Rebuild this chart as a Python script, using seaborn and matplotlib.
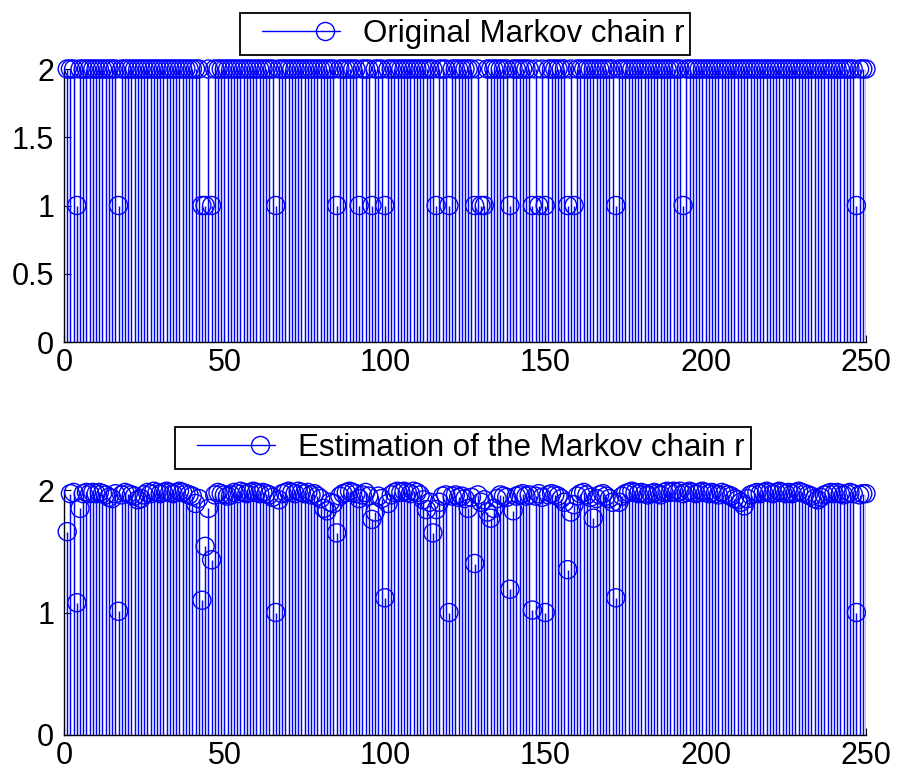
import numpy as np
import pandas as pd
import matplotlib
matplotlib.use("Agg")
import matplotlib.pyplot as plt
from matplotlib.lines import Line2D
import seaborn as sns

# Time steps of the chain
steps = list(range(1, 251))

# Steps at which the original chain sits in state 1 (state 2 elsewhere)
state_one_steps = [4, 17, 43, 44, 46, 66, 85, 92, 96, 100, 116, 120, 128, 130,
                   131, 139, 146, 148, 150, 157, 159, 172, 193, 247]
original_r = [1 if s in state_one_steps else 2 for s in steps]

# Estimated chain values, steps 1..250
estimated_r = [
    1.66, 1.97, 1.98, 1.08, 1.85, 1.97, 1.98, 1.97, 1.98, 1.97,
    1.98, 1.97, 1.96, 1.94, 1.93, 1.97, 1.01, 1.96, 1.98, 1.97,
    1.96, 1.95, 1.92, 1.93, 1.96, 1.98, 1.97, 1.99, 1.98, 1.97,
    1.98, 1.99, 1.98, 1.97, 1.98, 1.99, 1.98, 1.97, 1.96, 1.95,
    1.89, 1.93, 1.10, 1.54, 1.85, 1.43, 1.96, 1.98, 1.97, 1.96,
    1.95, 1.96, 1.98, 1.97, 1.99, 1.98, 1.97, 1.98, 1.99, 1.98,
    1.97, 1.98, 1.97, 1.96, 1.94, 1.00, 1.92, 1.97, 1.98, 1.99,
    1.98, 1.97, 1.99, 1.98, 1.97, 1.98, 1.96, 1.97, 1.95, 1.93,
    1.85, 1.83, 1.90, 1.89, 1.65, 1.95, 1.97, 1.98, 1.99, 1.98,
    1.97, 1.93, 1.96, 1.98, 1.95, 1.76, 1.82, 1.95, 1.93, 1.12,
    1.89, 1.96, 1.98, 1.99, 1.98, 1.99, 1.98, 1.97, 1.99, 1.98,
    1.96, 1.92, 1.84, 1.90, 1.65, 1.84, 1.90, 1.95, 1.96, 1.00,
    1.95, 1.96, 1.94, 1.95, 1.93, 1.85, 1.94, 1.40, 1.96, 1.90,
    1.92, 1.82, 1.77, 1.85, 1.93, 1.96, 1.95, 1.94, 1.19, 1.83,
    1.95, 1.96, 1.97, 1.95, 1.96, 1.02, 1.95, 1.97, 1.94, 1.00,
    1.96, 1.97, 1.96, 1.95, 1.93, 1.90, 1.35, 1.82, 1.88, 1.95,
    1.97, 1.98, 1.96, 1.94, 1.77, 1.93, 1.96, 1.97, 1.95, 1.93,
    1.90, 1.12, 1.90, 1.95, 1.97, 1.98, 1.99, 1.98, 1.97, 1.98,
    1.97, 1.96, 1.97, 1.98, 1.97, 1.96, 1.98, 1.99, 1.98, 1.99,
    1.98, 1.99, 1.97, 1.98, 1.99, 1.98, 1.97, 1.98, 1.99, 1.98,
    1.97, 1.98, 1.97, 1.96, 1.98, 1.97, 1.96, 1.95, 1.93, 1.92,
    1.90, 1.87, 1.93, 1.96, 1.97, 1.98, 1.97, 1.98, 1.99, 1.98,
    1.97, 1.98, 1.99, 1.98, 1.97, 1.98, 1.97, 1.98, 1.99, 1.98,
    1.97, 1.96, 1.95, 1.93, 1.92, 1.94, 1.96, 1.97, 1.98, 1.97,
    1.98, 1.97, 1.96, 1.97, 1.98, 1.97, 1.00, 1.96, 1.97, 1.97,
]

x_ticks = [0, 50, 100, 150, 200, 250]
top_y_ticks = [0, 0.5, 1, 1.5, 2]
bottom_y_ticks = [0, 1, 2]
top_label = "Original Markov chain r"
bottom_label = "Estimation of the Markov chain r"

sns.set_theme(style="white")
plt.rcParams["font.family"] = ["Liberation Sans", "DejaVu Sans"]
plt.rcParams["text.color"] = "black"

BLUE = (0, 0, 1)
FS = 22
LEG_FS = 22.5
MS = 13
LW = 1.0

W, H = 898, 781
fig = plt.figure(figsize=(W / 100, H / 100), dpi=100)
ax_top = fig.add_axes([64 / W, 1 - 342 / H, 802 / W, 273 / H])
ax_bot = fig.add_axes([64 / W, 1 - 735 / H, 802 / W, 245 / H])


def stem(ax, df):
    ax.vlines(df["step"], 0, df["value"], colors=[BLUE], linewidth=1.05,
              zorder=2)
    sns.scatterplot(data=df, x="step", y="value", ax=ax, marker="o",
                    s=MS ** 2, facecolors="none", edgecolor=BLUE,
                    linewidth=LW, zorder=3, clip_on=False, legend=False)


def style(ax, yticks, label, legend_center):
    ax.set_xlim(0, 250)
    ax.set_ylim(0, 2)
    ax.set_xticks(x_ticks)
    ax.set_yticks(yticks)
    ax.set_xticklabels([str(t) for t in x_ticks])
    ax.set_yticklabels([f"{t:g}" for t in yticks])
    ax.set_xlabel("")
    ax.set_ylabel("")
    for side in ("top", "right"):
        ax.spines[side].set_visible(False)
    for side in ("left", "bottom"):
        ax.spines[side].set_color("black")
        ax.spines[side].set_linewidth(1.0)
    ax.tick_params(axis="y", pad=7)
    ax.tick_params(axis="x", pad=4)
    ax.tick_params(axis="both", direction="in", length=5, width=0.8,
                   labelsize=FS, colors="black", labelcolor="black",
                   left=True, bottom=True)
    handle = Line2D([0], [0], color=BLUE, linewidth=LW, marker="o",
                    markersize=MS, markerfacecolor="none",
                    markeredgecolor=BLUE, markeredgewidth=LW)
    leg = fig.legend([handle], [label], loc="center",
                     bbox_to_anchor=legend_center, fontsize=LEG_FS,
                     frameon=True, fancybox=False, framealpha=1,
                     edgecolor="black", borderpad=0.2, handlelength=3.14,
                     handletextpad=0.6, labelcolor="black")
    leg.get_frame().set_linewidth(1.3)
    for ln in leg.get_lines():
        xd = ln.get_xdata()
        x0, x1 = xd[0], xd[-1]
        span = x1 - x0
        ln.set_xdata([x0 + 0.163 * span, x0 + 0.806 * span, x0 + 0.96 * span])
        ln.set_ydata(np.full(3, ln.get_ydata()[0]))
        ln.set_markevery([1])


top_df = pd.DataFrame({"step": steps, "value": original_r})
bot_df = pd.DataFrame({"step": steps, "value": estimated_r})

stem(ax_top, top_df)
stem(ax_bot, bot_df)
style(ax_top, top_y_ticks, top_label, (465 / W, 1 - 34 / H))
style(ax_bot, bottom_y_ticks, bottom_label, (463 / W, 1 - 448 / H))

fig.savefig("out.png", dpi=100, facecolor="white")
